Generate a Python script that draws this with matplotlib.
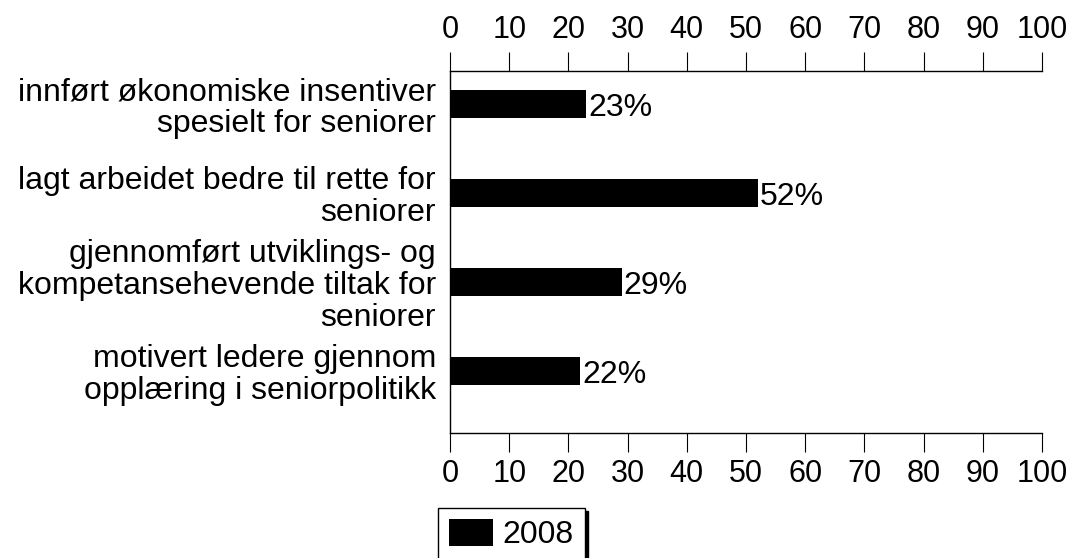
import matplotlib.pyplot as plt
import numpy as np

plt.rcParams['font.family'] = ['Liberation Sans', 'DejaVu Sans']

categories = ['innført økonomiske insentiver\nspesielt for seniorer',
              'lagt arbeidet bedre til rette for\nseniorer',
              'gjennomført utviklings- og\nkompetansehevende tiltak for\nseniorer',
              'motivert ledere gjennom\nopplæring i seniorpolitikk']
values_2008 = [23, 52, 29, 22]
ticks = np.arange(0, 101, 10)

fig = plt.figure(figsize=(10.72, 5.58), dpi=100)
ax = fig.add_axes([450 / 1072, 1 - 433 / 558, 592 / 1072, 362 / 558])

pos = np.arange(len(categories))
bars = ax.barh(pos, values_2008, height=0.315, color='black', label='2008')
for b, v in zip(bars, values_2008):
    ax.text(v + 0.3, b.get_y() + b.get_height() / 2 + 0.05, '%d%%' % v,
            va='center', ha='left', fontsize=23)

ax.set_xlim(0, 100)
ax.set_ylim(3.70, -0.37)
ax.set_xticks(ticks)
ax.set_yticks(pos)
ax.set_yticklabels(categories, fontsize=23, linespacing=1.08)
ax.tick_params(axis='y', length=0, pad=10)
ax.tick_params(axis='x', which='both', top=True, labeltop=True, bottom=True,
               labelbottom=True, labelsize=22, length=14, direction='out', pad=5)
ax.spines['right'].set_visible(False)
for s in ['left', 'top', 'bottom']:
    ax.spines[s].set_linewidth(1)

leg = fig.legend(loc='upper left', bbox_to_anchor=(438 / 1072, 1 - 508 / 558),
                 fontsize=23, frameon=True, fancybox=False,
                 shadow={'color': 'black', 'alpha': 1},
                 handlelength=1.375, handleheight=0.9, borderpad=0.35,
                 handletextpad=0.3, borderaxespad=0)
leg.get_frame().set_edgecolor('black')
leg.get_frame().set_linewidth(1)

fig.savefig('out.png', dpi=100)
